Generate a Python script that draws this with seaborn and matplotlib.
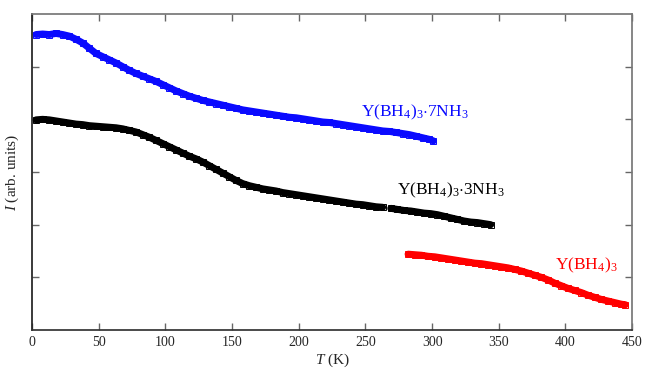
import numpy as np
import pandas as pd
import matplotlib
matplotlib.use("Agg")
import matplotlib.pyplot as plt
import seaborn as sns

# ================= DATA =================
T_7nh3 = [3, 8, 13, 18, 23, 28, 33, 38, 43, 48, 53, 58, 63, 68, 73, 78, 83, 88, 93, 98,
          103, 108, 113, 118, 123, 128, 133, 138, 143, 148, 153, 158, 163, 168, 173, 178,
          183, 188, 193, 198, 203, 208, 213, 218, 223, 228, 233, 238, 243, 248, 253, 258,
          263, 268, 273, 278, 283, 288, 293, 298, 301]
I_7nh3 = [5.61, 5.62, 5.61, 5.63, 5.61, 5.58, 5.52, 5.45, 5.35, 5.25, 5.19, 5.13, 5.07, 5.00,
          4.93, 4.87, 4.82, 4.77, 4.72, 4.66, 4.60, 4.54, 4.49, 4.44, 4.40, 4.36, 4.33, 4.30,
          4.27, 4.24, 4.21, 4.18, 4.16, 4.14, 4.12, 4.10, 4.08, 4.06, 4.04, 4.03, 4.01, 3.99,
          3.97, 3.95, 3.94, 3.92, 3.90, 3.88, 3.86, 3.84, 3.82, 3.80, 3.78, 3.77, 3.75, 3.73,
          3.71, 3.68, 3.65, 3.62, 3.59]

T_3nh3 = [3, 8, 13, 18, 23, 28, 33, 38, 43, 48, 53, 58, 63, 68, 73, 78, 83, 88, 93, 98,
          103, 108, 113, 118, 123, 128, 133, 138, 143, 148, 153, 158, 163, 168, 173, 178,
          183, 188, 193, 198, 203, 208, 213, 218, 223, 228, 233, 238, 243, 248, 253, 258,
          263, 269, 274, 279, 284, 289, 294, 299, 304, 309, 314, 319, 324, 329, 334, 339, 344]
I_3nh3 = [3.99, 4.00, 3.99, 3.97, 3.95, 3.93, 3.91, 3.90, 3.88, 3.87, 3.86, 3.85, 3.84, 3.82,
          3.79, 3.76, 3.71, 3.66, 3.60, 3.54, 3.48, 3.42, 3.36, 3.30, 3.25, 3.19, 3.12, 3.05,
          2.98, 2.91, 2.84, 2.78, 2.74, 2.71, 2.68, 2.66, 2.64, 2.61, 2.59, 2.57, 2.55, 2.53,
          2.51, 2.49, 2.47, 2.45, 2.43, 2.41, 2.39, 2.38, 2.36, 2.34, 2.33, 2.31, 2.29, 2.27,
          2.26, 2.24, 2.22, 2.21, 2.19, 2.16, 2.13, 2.10, 2.07, 2.05, 2.04, 2.02, 2.00]
# the 3NH3 run has a small break near 266 K
seg_3nh3 = [0 if t < 266 else 1 for t in T_3nh3]

T_pure = [282, 287, 292, 297, 302, 307, 312, 317, 322, 327, 332, 337, 342, 347, 352, 357,
          362, 367, 372, 377, 382, 387, 392, 397, 402, 407, 412, 417, 422, 427, 432, 437,
          442, 445]
I_pure = [1.44, 1.43, 1.42, 1.40, 1.39, 1.37, 1.35, 1.33, 1.31, 1.29, 1.27, 1.26, 1.24, 1.22,
          1.20, 1.18, 1.15, 1.12, 1.08, 1.04, 1.00, 0.95, 0.89, 0.84, 0.79, 0.75, 0.71, 0.66,
          0.62, 0.58, 0.55, 0.52, 0.49, 0.48]

LABELS = [r"Y(BH$_4$)$_3$$\cdot$7NH$_3$", r"Y(BH$_4$)$_3$$\cdot$3NH$_3$", r"Y(BH$_4$)$_3$"]
COLORS = ["#0a0aff", "#000000", "#ff0000"]

# ================= STYLE =================
sns.set_theme(style="ticks")
plt.rcParams["font.family"] = ["Liberation Serif", "DejaVu Serif"]
plt.rcParams["mathtext.fontset"] = "custom"
plt.rcParams["mathtext.rm"] = "Liberation Serif"
plt.rcParams["mathtext.it"] = "Liberation Serif:italic"

fig = plt.figure(figsize=(6.45, 3.68), dpi=100)
ax = fig.add_axes([0.0496, 0.1033, 0.9304, 0.8587])

# ================= PLOT =================
df7 = pd.DataFrame({"T": T_7nh3, "I": I_7nh3, "seg": 0})
df3 = pd.DataFrame({"T": T_3nh3, "I": I_3nh3, "seg": seg_3nh3})
df0 = pd.DataFrame({"T": T_pure, "I": I_pure, "seg": 0})

for df, c in zip([df7, df3, df0], COLORS):
    sns.lineplot(data=df, x="T", y="I", units="seg", estimator=None, ax=ax,
                 color=c, linewidth=5.0, marker="s", markersize=5,
                 markerfacecolor="none", markeredgecolor=c, markeredgewidth=0.7,
                 sort=False)

ax.text(247, 4.13, LABELS[0], color=COLORS[0], fontsize=12.5, va="center", ha="left")
ax.text(274, 2.66, LABELS[1], color=COLORS[1], fontsize=12.5, va="center", ha="left")
ax.text(392, 1.22, LABELS[2], color=COLORS[2], fontsize=12.5, va="center", ha="left")

# ================= AXES =================
ax.set_xlim(0, 450)
ax.set_ylim(0, 6)
ax.set_xticks(np.arange(0, 451, 50))
ax.set_yticks([1, 2, 3, 4, 5])
ax.set_yticklabels([])
ax.tick_params(direction="in", top=True, right=True, length=5, width=1,
               color="#666666", labelsize=10, pad=4)
ax.spines["left"].set_color("#222222")
ax.spines["bottom"].set_color("#333333")
ax.spines["top"].set_color("#777777")
ax.spines["right"].set_color("#777777")

ax.set_xlabel(r"$\mathit{T}$ (K)", fontsize=11, labelpad=2)
ax.set_ylabel(r"$\mathit{I}$ (arb. units)", fontsize=11, labelpad=4)

plt.savefig("out.png", dpi=100)
